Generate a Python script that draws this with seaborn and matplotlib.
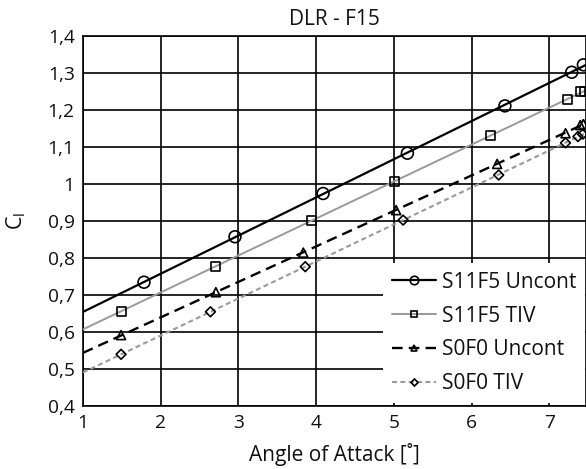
import numpy as np
import pandas as pd
import matplotlib
matplotlib.use("Agg")
import matplotlib.pyplot as plt
import seaborn as sns
from matplotlib.lines import Line2D
from matplotlib.ticker import FuncFormatter, MultipleLocator

# ---- data ----
aoa_s11f5_uncont = [1.785, 2.956, 4.09, 5.175, 6.43, 7.29, 7.44]
cl_s11f5_uncont = [0.734, 0.857, 0.974, 1.083, 1.211, 1.302, 1.322]
aoa_s11f5_tiv = [1.497, 2.70, 3.94, 5.006, 6.25, 7.24, 7.40, 7.45]
cl_s11f5_tiv = [0.656, 0.776, 0.902, 1.006, 1.130, 1.229, 1.249, 1.250]
aoa_s0f0_uncont = [1.49, 2.71, 3.835, 5.03, 6.33, 7.21, 7.40, 7.44]
cl_s0f0_uncont = [0.591, 0.707, 0.814, 0.929, 1.054, 1.137, 1.159, 1.162]
aoa_s0f0_tiv = [1.49, 2.64, 3.86, 5.12, 6.35, 7.21, 7.37, 7.43]
cl_s0f0_tiv = [0.539, 0.654, 0.776, 0.902, 1.024, 1.111, 1.128, 1.134]

series_labels = ["S11F5 Uncont", "S11F5 TIV", "S0F0 Uncont", "S0F0 TIV"]
series_aoa = [aoa_s11f5_uncont, aoa_s11f5_tiv, aoa_s0f0_uncont, aoa_s0f0_tiv]
series_cl = [cl_s11f5_uncont, cl_s11f5_tiv, cl_s0f0_uncont, cl_s0f0_tiv]

title_text = "DLR - F15"
xlabel_text = "Angle of Attack [˚]"

# ---- styles ----
styles = [
    dict(color="black", lw=1.6, dashes=None, marker="o", ms=8.5),
    dict(color="#9a9a9a", lw=1.4, dashes=None, marker="s", ms=6.5),
    dict(color="black", lw=1.7, dashes=(4.5, 2.6), marker="^", ms=6.5),
    dict(color="#9a9a9a", lw=1.5, dashes=(2.4, 1.6), marker="D", ms=5.0),
]

sns.set_theme(style="white")
plt.rcParams["font.family"] = ["Open Sans", "DejaVu Sans"]

fig = plt.figure(figsize=(5.86, 4.69), dpi=100)
ax = fig.add_axes([83 / 586, 1 - 405.7 / 469, 1 - 83 / 586, (405.7 - 36) / 469])

xmin, xmax = 1.0, 1 + (586 - 83) / 77.7
ax.set_xlim(xmin, xmax)
ax.set_ylim(0.4, 1.4)

handles = []
for lab, xs, ys, st in zip(series_labels, series_aoa, series_cl, styles):
    df = pd.DataFrame({"aoa": xs, "cl": ys})
    lkw = dict(color=st["color"], lw=st["lw"], zorder=3)
    if st["dashes"] is not None:
        lkw["dashes"] = st["dashes"]
    ax.set_xlim(xmin, xmax)
    sns.regplot(data=df, x="aoa", y="cl", ax=ax, scatter=False, ci=None,
                truncate=False, line_kws=lkw)
    sns.scatterplot(data=df, x="aoa", y="cl", ax=ax, marker=st["marker"],
                    s=st["ms"] ** 2, facecolor="none", edgecolor="black",
                    linewidth=1.2, zorder=4)
    h = Line2D([], [], color=st["color"], lw=st["lw"], marker=st["marker"],
               markersize=st["ms"] * 0.72, markerfacecolor="none",
               markeredgecolor="black", markeredgewidth=1.2)
    if st["dashes"] is not None:
        h.set_dashes(st["dashes"])
    handles.append(h)

ax.set_xlim(xmin, xmax)
ax.set_ylim(0.4, 1.4)
ax.xaxis.set_major_locator(MultipleLocator(1))
ax.yaxis.set_major_locator(MultipleLocator(0.1))

def yfmt(v, pos):
    s = f"{v:.1f}".replace(".", ",")
    if s.endswith(",0"):
        s = s[:-2]
    return s

ax.yaxis.set_major_formatter(FuncFormatter(yfmt))
ax.xaxis.set_major_formatter(FuncFormatter(lambda v, p: f"{v:.0f}"))

ax.grid(True, color="black", lw=1.2)
ax.set_axisbelow(True)
for sp in ax.spines.values():
    sp.set_color("black")
    sp.set_linewidth(1.2)
ax.tick_params(axis="both", labelsize=13.8, colors="#111111", length=0, pad=6)

ax.set_title(title_text, fontsize=15, color="#111111", pad=8)
ax.set_xlabel(xlabel_text, fontsize=15, color="#111111", labelpad=8)
ax.set_ylabel("C$_\\mathregular{l}$", fontsize=15.5, color="#111111")
ax.yaxis.set_label_coords(-0.11, 0.5)

leg = ax.legend(handles, series_labels, loc="lower left",
                bbox_to_anchor=(0.596, 0.007), borderaxespad=0,
                fontsize=15, frameon=True, fancybox=False, framealpha=1,
                facecolor="white", edgecolor="none", handlelength=2.15,
                handletextpad=0.25, labelspacing=0.62, borderpad=0.42)
for t in leg.get_texts():
    t.set_color("#111111")

fig.savefig("out.png", dpi=100)
